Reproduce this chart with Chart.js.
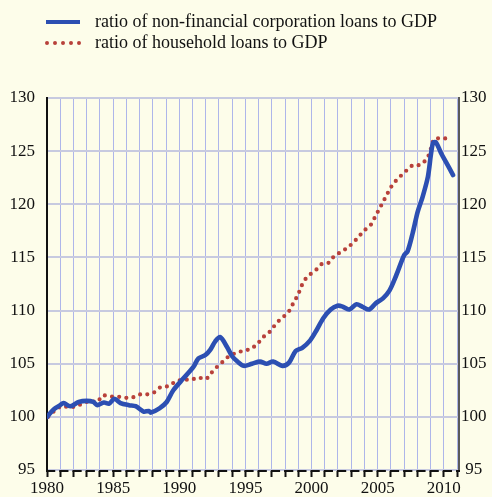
<!DOCTYPE html>
<html>
<head>
<meta charset="utf-8">
<script src="https://cdn.jsdelivr.net/npm/chart.js@4/dist/chart.umd.min.js"></script>
<style>
  html, body { margin: 0; padding: 0; background: #fdfdea; }
  #wrap { width: 492px; height: 497px; }
</style>
</head>
<body>
<div id="wrap"><canvas id="c" width="492" height="497"></canvas></div>
<script>
// ---- Data ----
const seriesNames = [
  'ratio of non-financial corporation loans to GDP',
  'ratio of household loans to GDP'
];
const yTickValues = [95, 100, 105, 110, 115, 120, 125, 130];
const xLabelYears = [1980, 1985, 1990, 1995, 2000, 2005, 2010];

const nfcYears = [1980.0, 1980.5, 1981.0, 1981.25, 1981.76, 1982.4, 1983.0, 1983.5, 1983.8, 1984.3,
  1984.7, 1985.1, 1985.56, 1986.2, 1986.7, 1987.3, 1987.7, 1987.85, 1988.5, 1989.05,
  1989.55, 1990.3, 1991.07, 1991.45, 1991.96, 1992.34, 1992.72, 1993.1, 1993.6, 1994.0,
  1994.4, 1994.87, 1995.5, 1996.1, 1996.6, 1997.1, 1997.8, 1998.3, 1998.8, 1999.3,
  1999.9, 2000.4, 2000.9, 2001.45, 2001.96, 2002.3, 2002.85, 2003.4, 2003.86, 2004.36,
  2004.87, 2005.4, 2005.9, 2006.4, 2007.0, 2007.27, 2007.65, 2008.03, 2008.4, 2008.8,
  2009.04, 2009.2, 2009.42, 2009.8, 2010.2, 2010.7];
const nfcValues = [100.0, 100.7, 101.1, 101.3, 101.0, 101.4, 101.5, 101.4, 101.1, 101.35,
  101.25, 101.7, 101.3, 101.1, 101.0, 100.5, 100.55, 100.4, 100.8, 101.4,
  102.5, 103.6, 104.7, 105.5, 105.8, 106.3, 107.1, 107.5, 106.6, 105.7,
  105.2, 104.8, 105.0, 105.2, 105.0, 105.2, 104.8, 105.1, 106.2, 106.5,
  107.2, 108.2, 109.3, 110.1, 110.45, 110.4, 110.1, 110.6, 110.35, 110.1,
  110.7, 111.15, 111.9, 113.3, 115.2, 115.6, 117.3, 119.3, 120.7, 122.6,
  124.8, 125.8, 125.8, 124.8, 123.9, 122.75];

const hhYears = [1980.1, 1980.6, 1981.1, 1981.7, 1982.2, 1982.8, 1983.3, 1983.8, 1984.2, 1984.8,
  1985.35, 1985.9, 1986.4, 1987.0, 1987.5, 1988.1, 1988.6, 1989.2, 1989.7, 1990.25,
  1990.9, 1991.45, 1992.0, 1992.4, 1992.85, 1993.3, 1993.7, 1994.25, 1994.8, 1995.4,
  1995.9, 1996.3, 1996.8, 1997.15, 1997.5, 1997.95, 1998.36, 1998.66, 1998.97, 1999.2,
  1999.5, 1999.9, 2000.4, 2000.8, 2001.3, 2001.7, 2002.2, 2002.7, 2003.2, 2003.6,
  2004.05, 2004.5, 2004.8, 2005.1, 2005.4, 2005.7, 2005.95, 2006.3, 2006.77, 2007.2,
  2007.7, 2008.2, 2008.66, 2008.96, 2009.1, 2009.35, 2009.9, 2010.4];
const hhValues = [100.0, 100.6, 101.0, 100.9, 101.0, 101.3, 101.5, 101.4, 102.0, 101.9,
  101.9, 101.8, 101.8, 102.1, 102.1, 102.3, 102.8, 102.9, 103.3, 103.5,
  103.5, 103.7, 103.55, 104.1, 104.7, 105.2, 105.65, 106.0, 106.2, 106.4,
  106.85, 107.45, 107.95, 108.5, 109.0, 109.5, 110.05, 110.8, 111.45, 112.2,
  112.9, 113.4, 113.9, 114.4, 114.5, 115.1, 115.5, 115.9, 116.45, 117.0,
  117.6, 118.1, 118.8, 119.5, 120.2, 120.9, 121.5, 122.1, 122.7, 123.2,
  123.7, 123.7, 124.2, 124.9, 125.65, 126.2, 126.15, 126.3];

// ---- Styles ----
const BLUE = '#2c4fb2';
const RED = '#b8413a';
const FONT = "'Liberation Serif', 'Times New Roman', serif";

const toPoints = (xs, ys) => xs.map((x, i) => ({ x: x, y: ys[i] }));

const decorPlugin = {
  id: 'decor',
  afterDraw(chart) {
    const ctx = chart.ctx;
    const area = chart.chartArea;
    const xs = chart.scales.x;
    ctx.save();
    // bottom axis line, broken after each yearly tick as in the reference
    const step = xs.getPixelForValue(1981) - xs.getPixelForValue(1980);
    ctx.beginPath();
    ctx.strokeStyle = '#111';
    ctx.lineWidth = 2;
    ctx.setLineDash([step - 4, 4]);
    ctx.moveTo(area.left - 1, area.bottom + 1);
    ctx.lineTo(area.right + 1, area.bottom + 1);
    ctx.stroke();
    ctx.setLineDash([]);

    // legend
    const rows = [
      { y: 22, color: BLUE, dash: [], width: 4, cap: 'butt', text: seriesNames[0] },
      { y: 43, color: RED, dash: [0, 8], width: 4, cap: 'round', text: seriesNames[1] }
    ];
    rows.forEach(r => {
      ctx.beginPath();
      ctx.strokeStyle = r.color;
      ctx.lineWidth = r.width;
      ctx.lineCap = r.cap;
      ctx.setLineDash(r.dash);
      ctx.moveTo(r.cap === 'round' ? 47 : 46, r.y);
      ctx.lineTo(80, r.y);
      ctx.stroke();
      ctx.setLineDash([]);
      ctx.fillStyle = '#111';
      ctx.font = '18px ' + FONT;
      ctx.textBaseline = 'middle';
      ctx.textAlign = 'left';
      ctx.fillText(r.text, 95, r.y);
    });
    ctx.restore();
  }
};

new Chart(document.getElementById('c'), {
  type: 'line',
  data: {
    datasets: [
      {
        label: seriesNames[0],
        data: toPoints(nfcYears, nfcValues),
        borderColor: BLUE,
        borderWidth: 4.6,
        pointRadius: 0,
        tension: 0.3,
        borderJoinStyle: 'round',
        borderCapStyle: 'round',
        order: 1
      },
      {
        label: seriesNames[1],
        data: toPoints(hhYears, hhValues),
        borderColor: RED,
        borderWidth: 4.2,
        borderDash: [0, 7.2],
        borderCapStyle: 'round',
        pointRadius: 0,
        tension: 0.3,
        order: 2
      }
    ]
  },
  options: {
    responsive: false,
    animation: false,
    layout: { padding: { top: 98, left: 0, right: 0, bottom: 0 } },
    plugins: { legend: { display: false }, tooltip: { enabled: false } },
    scales: {
      x: {
        type: 'linear',
        min: 1980,
        max: 2011.15,
        afterFit(scale) { scale.height = 27; },
        afterBuildTicks(scale) {
          const t = [];
          for (let y = 1980; y <= 2011; y++) t.push({ value: y });
          scale.ticks = t;
        },
        ticks: {
          autoSkip: false,
          maxRotation: 0,
          padding: 1,
          color: '#111',
          font: { family: FONT, size: 17 },
          callback: (v) => xLabelYears.includes(v) ? String(v) : ''
        },
        grid: {
          color: '#aeb6ea',
          lineWidth: 1,
          drawTicks: true,
          tickLength: 7,
          tickColor: '#111',
          tickWidth: 2
        },
        border: { display: false }
      },
      y: {
        position: 'left',
        min: 95,
        max: 130,
        afterFit(scale) { scale.width = 47; },
        afterBuildTicks(scale) { scale.ticks = yTickValues.map(v => ({ value: v })); },
        ticks: {
          padding: 12,
          color: '#111',
          font: { family: FONT, size: 17 }
        },
        grid: { color: '#c7cae0', lineWidth: 2, drawTicks: false },
        border: { display: true, color: '#111', width: 2 }
      },
      y2: {
        position: 'right',
        min: 95,
        max: 130,
        afterFit(scale) { scale.width = 33; },
        afterBuildTicks(scale) { scale.ticks = yTickValues.map(v => ({ value: v })); },
        ticks: {
          padding: 2,
          crossAlign: 'center',
          color: '#111',
          font: { family: FONT, size: 17 }
        },
        grid: { drawOnChartArea: false, drawTicks: false },
        border: { display: true, color: '#5a5a5a', width: 2 }
      }
    }
  },
  plugins: [decorPlugin]
});
</script>
</body>
</html>
